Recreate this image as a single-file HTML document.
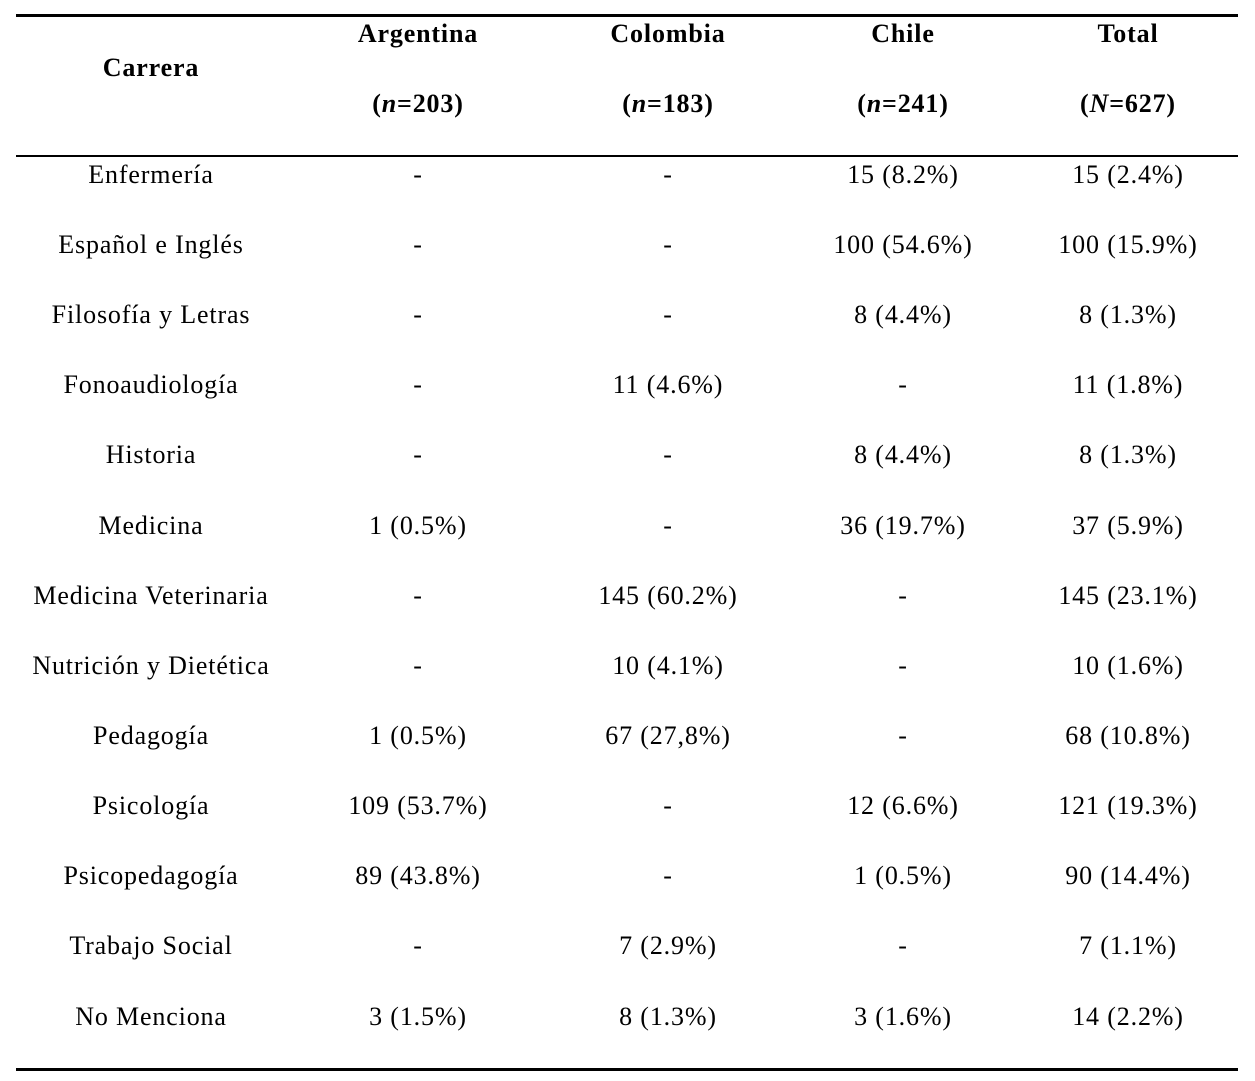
<!DOCTYPE html>
<html><head><meta charset="utf-8"><style>
html,body{margin:0;padding:0;background:#fff;width:1255px;height:1081px;overflow:hidden}
svg text{font-family:"Liberation Serif",serif;font-size:26px;fill:#000;letter-spacing:0.85px}
</style></head><body>
<svg width="1255" height="1081" xmlns="http://www.w3.org/2000/svg">
<rect x="16" y="14" width="1222" height="3" fill="#000"/>
<rect x="16" y="155" width="1222" height="2" fill="#000"/>
<rect x="16" y="1068" width="1222" height="3" fill="#000"/>
<g font-weight="bold" text-anchor="middle">
<text x="151" y="76" font-weight="bold">Carrera</text>
<text x="418" y="42" font-weight="bold">Argentina</text>
<text x="668" y="42" font-weight="bold">Colombia</text>
<text x="903" y="42" font-weight="bold">Chile</text>
<text x="1128" y="42" font-weight="bold">Total</text>
<text x="418" y="112" font-weight="bold">(<tspan font-style="italic">n</tspan>=203)</text>
<text x="668" y="112" font-weight="bold">(<tspan font-style="italic">n</tspan>=183)</text>
<text x="903" y="112" font-weight="bold">(<tspan font-style="italic">n</tspan>=241)</text>
<text x="1128" y="112" font-weight="bold">(<tspan font-style="italic">N</tspan>=627)</text>
</g>
<g text-anchor="middle">
<text x="151" y="183">Enfermería</text><text x="418" y="183">-</text><text x="668" y="183">-</text><text x="903" y="183">15 (8.2%)</text><text x="1128" y="183">15 (2.4%)</text>
<text x="151" y="253">Español e Inglés</text><text x="418" y="253">-</text><text x="668" y="253">-</text><text x="903" y="253">100 (54.6%)</text><text x="1128" y="253">100 (15.9%)</text>
<text x="151" y="323">Filosofía y Letras</text><text x="418" y="323">-</text><text x="668" y="323">-</text><text x="903" y="323">8 (4.4%)</text><text x="1128" y="323">8 (1.3%)</text>
<text x="151" y="393">Fonoaudiología</text><text x="418" y="393">-</text><text x="668" y="393">11 (4.6%)</text><text x="903" y="393">-</text><text x="1128" y="393">11 (1.8%)</text>
<text x="151" y="463">Historia</text><text x="418" y="463">-</text><text x="668" y="463">-</text><text x="903" y="463">8 (4.4%)</text><text x="1128" y="463">8 (1.3%)</text>
<text x="151" y="534">Medicina</text><text x="418" y="534">1 (0.5%)</text><text x="668" y="534">-</text><text x="903" y="534">36 (19.7%)</text><text x="1128" y="534">37 (5.9%)</text>
<text x="151" y="604">Medicina Veterinaria</text><text x="418" y="604">-</text><text x="668" y="604">145 (60.2%)</text><text x="903" y="604">-</text><text x="1128" y="604">145 (23.1%)</text>
<text x="151" y="674">Nutrición y Dietética</text><text x="418" y="674">-</text><text x="668" y="674">10 (4.1%)</text><text x="903" y="674">-</text><text x="1128" y="674">10 (1.6%)</text>
<text x="151" y="744">Pedagogía</text><text x="418" y="744">1 (0.5%)</text><text x="668" y="744">67 (27,8%)</text><text x="903" y="744">-</text><text x="1128" y="744">68 (10.8%)</text>
<text x="151" y="814">Psicología</text><text x="418" y="814">109 (53.7%)</text><text x="668" y="814">-</text><text x="903" y="814">12 (6.6%)</text><text x="1128" y="814">121 (19.3%)</text>
<text x="151" y="884">Psicopedagogía</text><text x="418" y="884">89 (43.8%)</text><text x="668" y="884">-</text><text x="903" y="884">1 (0.5%)</text><text x="1128" y="884">90 (14.4%)</text>
<text x="151" y="954">Trabajo Social</text><text x="418" y="954">-</text><text x="668" y="954">7 (2.9%)</text><text x="903" y="954">-</text><text x="1128" y="954">7 (1.1%)</text>
<text x="151" y="1025">No Menciona</text><text x="418" y="1025">3 (1.5%)</text><text x="668" y="1025">8 (1.3%)</text><text x="903" y="1025">3 (1.6%)</text><text x="1128" y="1025">14 (2.2%)</text>
</g>
</svg>
</body></html>
